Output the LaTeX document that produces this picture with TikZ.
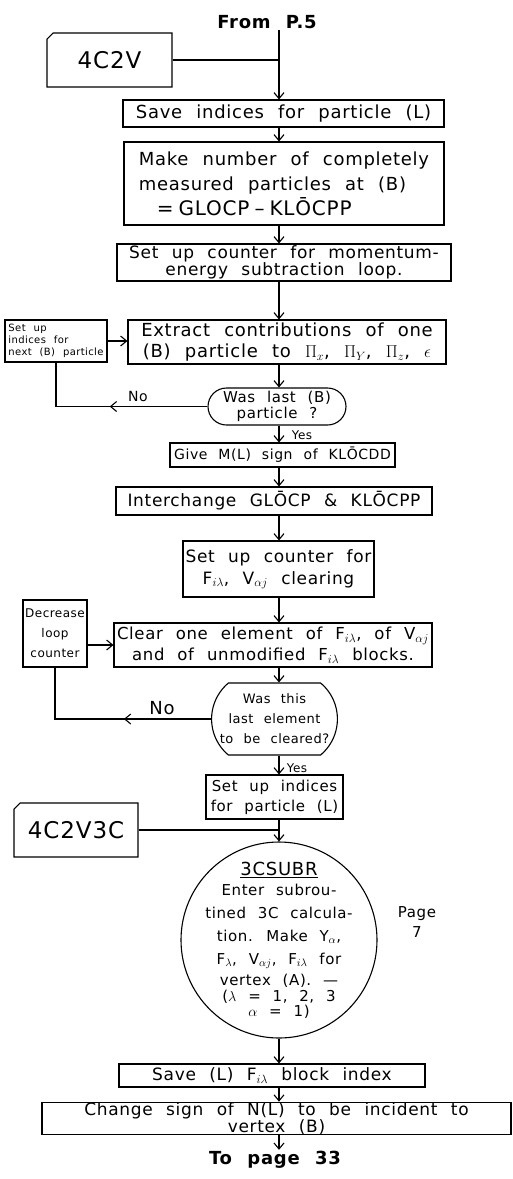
\documentclass[tikz,border=0pt]{standalone}
\usepackage{fontspec}
\setmainfont{DejaVu Sans}[WordSpace=2.2, LetterSpace=4]
\usetikzlibrary{arrows.meta,shapes.misc,decorations.markings}

\tikzset{
  box/.style={draw, align=center, inner sep=1pt, font=\fontsize{18}{20}\selectfont},
  card/.style={draw, chamfered rectangle, chamfered rectangle corners=north west,
    chamfered rectangle xsep=2.5pt, font=\fontsize{23}{26}\selectfont},
  ask/.style={draw, rounded rectangle, align=center, inner sep=1pt},
  lbl/.style={inner sep=1pt, align=center},
  arr/.style={-{Straight Barb[length=6pt,width=10pt]}},
  midarrow/.style={postaction={decorate}, decoration={markings,
    mark=at position #1 with {\arrow{Straight Barb[length=6pt,width=10pt]}}}},
}

\begin{document}
\begin{tikzpicture}[x=1pt, y=-1pt, line width=1.1pt]
  \useasboundingbox (0,0) rectangle (512,1179);
  \coordinate (spine) at (279,0);

  % entry and first half
  \node[lbl, font=\bfseries\fontsize{18}{20}\selectfont] (from) at (267,22) {From P.5};
  \node[card, minimum width=125pt, minimum height=54pt] (card1) at (109.5,60) {4C2V};
  \coordinate (j1) at (279,60);
  \node[box, minimum width=321pt, minimum height=27pt] (save) at (283.5,113.5) {Save indices for particle (L)};
  \node[box, minimum width=320pt, minimum height=83pt, align=left, font=\fontsize{18}{25}\selectfont] (make) at (284,183.5)
    {Make number of completely\\measured particles at (B)\\\hspace*{1em}{\fontsize{20}{25}\selectfont =\hspace{5pt}GLOCP\hspace{5pt}–\hspace{5pt}KL\=OCPP}};
  \node[box, minimum width=334pt, minimum height=37pt, font=\fontsize{17}{17}\selectfont] (count) at (284,262.5)
    {Set up counter for momentum-\\energy subtraction loop.};
  \node[box, minimum width=318pt, minimum height=44pt, font=\fontsize{18}{21}\selectfont] (extract) at (287,342)
    {Extract contributions of one\\(B) particle to $\Pi_x$, $\Pi_Y$, $\Pi_z$, $\epsilon$};
  \node[box, minimum width=102pt, minimum height=42pt, align=left, font=\fontsize{10}{12}\selectfont] (next) at (56,341)
    {Set up\\indices for\\next (B) particle};
  \node[ask, minimum width=140pt, minimum height=37pt, font=\fontsize{15}{16}\selectfont] (last) at (277,406.5)
    {Was last (B)\\particle ?};
  \node[box, minimum width=225pt, minimum height=24pt, font=\fontsize{14}{16}\selectfont] (give) at (282.5,455)
    {Give M(L) sign of KL\=OCDD};
  \node[box, minimum width=316pt, minimum height=28pt, font=\fontsize{17}{19}\selectfont] (swap) at (274,501)
    {Interchange GL\=OCP \& KL\=OCPP};

  % clearing loop
  \node[box, minimum width=191pt, minimum height=56pt, font=\fontsize{17}{22}\selectfont] (clr) at (278.5,569)
    {Set up counter for\\F$_{i\lambda}$, V$_{\alpha j}$ clearing};
  \node[box, minimum width=64pt, minimum height=67pt, font=\fontsize{12}{20}\selectfont] (dec) at (55,633.5)
    {Decrease\\loop\\counter};
  \node[box, minimum width=318pt, minimum height=44pt, font=\fontsize{16.5}{21}\selectfont] (clear) at (273,645)
    {Clear one element of F$_{i\lambda}$, of V$_{\alpha j}$\\and of unmodified F$_{i\lambda}$ blocks.};
  \node[ask, rounded rectangle arc length=100, minimum width=105pt, minimum height=72pt, font=\fontsize{13}{20}\selectfont] (elem) at (274.5,719)
    {Was this\\last element\\to be cleared?};
  \node[box, minimum width=137pt, minimum height=44pt, font=\fontsize{15}{20}\selectfont] (idx) at (274.5,797)
    {Set up indices\\for particle (L)};
  \node[card, minimum width=124pt, minimum height=54pt] (card2) at (76,830) {4C2V3C};

  % subroutine and exit
  \node[draw, circle, minimum size=196pt, inner sep=-20pt, align=center, font=\fontsize{15}{23}\selectfont] (sub) at (279,940)
    {{\fontsize{18}{20}\selectfont\underline{3CSUBR}}\\[-3pt]
     Enter subrou-\\tined 3C calcula-\\tion. Make Y$_\alpha$,\\F$_\lambda$, V$_{\alpha j}$, F$_{i\lambda}$ for\\[-2pt]
     vertex (A). —\\[-7pt]($\lambda$ = 1, 2, 3\\[-8pt]$\alpha$ = 1)};
  \node[lbl, font=\fontsize{15}{20}\selectfont] (page) at (417,922) {Page\\7};
  \node[box, minimum width=306pt, minimum height=23pt, font=\fontsize{17}{19}\selectfont] (blk) at (272,1075.5)
    {Save (L) F$_{i\lambda}$ block index};
  \node[box, minimum width=469pt, minimum height=31pt, inner sep=0pt, font=\fontsize{17}{14}\selectfont] (sign) at (276.5,1118.5)
    {Change sign of N(L) to be incident to\\vertex (B)};
  \node[lbl, font=\bfseries\fontsize{18}{20}\selectfont] (to) at (275,1160) {To page 33};

  \node[lbl, font=\fontsize{12}{14}\selectfont] (yes1) at (302,435) {Yes};
  \node[lbl, font=\fontsize{12}{14}\selectfont] (yes2) at (297,768) {Yes};
  \node[lbl, font=\fontsize{14}{16}\selectfont] (no1) at (138,396) {No};
  \node[lbl, font=\fontsize{18}{20}\selectfont] (no2) at (162,708) {No};

  % connectors
  \draw (card1.east) -- (j1);
  \draw[arr] (from.south -| spine) -- (save.north -| spine);
  \draw[arr] (save.south -| spine) -- (make.north -| spine);
  \draw[arr] (make.south -| spine) -- (count.north -| spine);
  \draw[arr] (count.south -| spine) -- (extract.north -| spine);
  \draw[arr] (extract.south -| spine) -- (last.north -| spine);
  \draw[arr] (next.east) -- (next.east -| extract.west);
  \draw[midarrow=0.5] (last.west) -- (last.west -| next.south) -- (next.south);
  \draw[arr] (last.south -| spine) -- (give.north -| spine);
  \draw[arr] (give.south -| spine) -- (swap.north -| spine);
  \draw[arr] (swap.south -| spine) -- (clr.north -| spine);
  \draw[arr] (clr.south -| spine) -- (clear.north -| spine);
  \draw[arr] (dec.east |- clear.west) -- (clear.west);
  \draw[arr] (clear.south -| spine) -- (elem.north -| spine);
  \draw[midarrow=0.42] (elem.west) -- (elem.west -| dec.south) -- (dec.south);
  \draw[arr] (elem.south -| spine) -- (idx.north -| spine);
  \draw (card2.east) -- (card2.east -| spine);
  \draw[arr] (idx.south -| spine) -- (sub.north);
  \draw[arr] (sub.south) -- (blk.north -| spine);
  \draw[arr] (blk.south -| spine) -- (sign.north -| spine);
  \draw[arr] (sign.south -| spine) -- (to.north -| spine);
\end{tikzpicture}
\end{document}
